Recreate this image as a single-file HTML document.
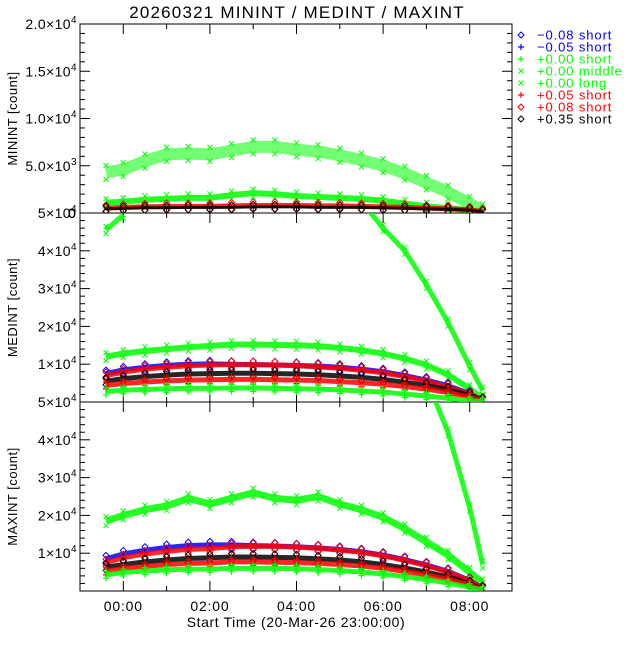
<!DOCTYPE html>
<html><head><meta charset="utf-8"><style>
body{margin:0;background:#fff}
svg text{font-family:"Liberation Sans",sans-serif;}
</style></head><body>
<svg id="c" width="640" height="640" viewBox="0 0 640 640" xmlns="http://www.w3.org/2000/svg">
<rect width="640" height="640" fill="#fff"/>
<text x="297" y="18" font-size="17" letter-spacing="1.2" text-anchor="middle">20260321 MININT / MEDINT / MAXINT</text>
</svg>
<script>
const times=[-0.4,0,0.5,1,1.5,2,2.5,3,3.5,4,4.5,5,5.5,6,6.5,7,7.5,8,8.3];
const xTicks=[0,2,4,6,8];
const xTickLabels=["00:00","02:00","04:00","06:00","08:00"];
// MININT
const minGreenCloud=[4300,4600,5500,6200,6300,6200,6600,7000,7000,6700,6500,6100,5600,5000,4200,3200,2200,1000,200];
const minGreenLow=[1100,1200,1400,1500,1600,1600,1900,2100,2000,1800,1700,1600,1500,1300,1000,700,500,300,100];
const minRed=[500,600,650,700,700,700,750,800,800,800,750,750,700,650,600,500,450,350,150];
const minBlack=[450,500,550,550,600,600,600,650,650,650,600,600,600,550,500,450,400,300,100];
// MEDINT
const medGreenTop=[45500,49500,null,null,null,null,null,null,null,null,null,null,53000,46000,40000,31000,21000,9500,3000];
const medGreenUp=[12000,12800,13500,14000,14500,14800,15200,15200,15100,15000,14800,14300,13700,12800,11500,9800,7200,3500,800];
const medBlue=[7500,8500,9200,9700,10000,10100,10000,9900,9800,9700,9500,9200,8700,8000,7000,5800,4300,2200,500];
const medRedO=[7000,7900,8700,9200,9600,9800,9900,9900,9800,9600,9300,8900,8400,7700,6700,5500,4000,2000,400];
const medBlack=[5500,6200,6700,7100,7400,7500,7600,7600,7500,7400,7200,6900,6500,6000,5200,4300,3200,1700,300];
const medRedP=[4400,4900,5300,5600,5800,5900,6000,6000,5900,5800,5700,5400,5100,4700,4100,3400,2500,1300,200];
const medGreenLow=[2800,3100,3300,3500,3600,3600,3700,3700,3600,3500,3400,3200,2900,2600,2100,1600,1000,400,100];
// MAXINT
const maxGreenHigh=[18500,20000,21500,22500,24500,23000,24500,26000,24500,24000,25000,23000,21500,19500,16500,13000,9500,5000,2000];
const maxGreenSteep=[null,null,null,null,null,null,null,null,null,null,null,null,null,null,null,56000,42000,22000,7000];
const maxBlue=[8500,9800,10800,11500,12000,12200,12200,12000,11900,11700,11400,11000,10400,9500,8300,6900,5200,2800,700];
const maxRed=[7500,8800,9800,10500,11000,11200,11700,11800,11800,11600,11300,10800,10200,9300,8100,6700,5000,2700,600];
const maxBlack=[6300,7000,7700,8200,8600,8800,9000,9000,8900,8800,8500,8200,7700,7000,6100,5000,3700,1900,400];
const maxRedP=[5200,6000,6500,7000,7300,7400,7700,7700,7600,7500,7300,7000,6600,6000,5200,4200,3100,1600,300];
const maxGreenLow=[4300,4900,5300,5600,5800,5800,6000,6000,6000,5900,5700,5400,5000,4500,3800,3000,2100,1000,200];
const legendLabels=["\u22120.08 short","\u22120.05 short","+0.00 short","+0.00 middle","+0.00 long","+0.05 short","+0.08 short","+0.35 short"];
const legendColors=["#0000ff","#0000ff","#00ff00","#00ff00","#00ff00","#ff0000","#ff0000","#000000"];
const legendSyms=["d","+","+","x","x","+","d","d"];

const NS="http://www.w3.org/2000/svg";
const svg=document.getElementById('c');
const X0=80,X1=512;
function xs(h){return 123.3+h*43.3;}
function mk(tag,attrs,parent){const e=document.createElementNS(NS,tag);for(const k in attrs)e.setAttribute(k,attrs[k]);(parent||svg).appendChild(e);return e;}
const panels=[
 {name:'minint',top:24,bot:213,max:20000,minor:1000,labels:[[0,"0"],[5000,"5.0×10","3"],[10000,"1.0×10","4"],[15000,"1.5×10","4"],[20000,"2.0×10","4"]],title:"MININT [count]"},
 {name:'medint',top:213,bot:402,max:50000,minor:2000,labels:[[0,"0"],[10000,"1×10","4"],[20000,"2×10","4"],[30000,"3×10","4"],[40000,"4×10","4"],[50000,"5×10","4"]],title:"MEDINT [count]"},
 {name:'maxint',top:402,bot:591,max:50000,minor:2000,labels:[[0,"0"],[10000,"1×10","4"],[20000,"2×10","4"],[30000,"3×10","4"],[40000,"4×10","4"],[50000,"5×10","4"]],title:"MAXINT [count]"}
];
function ysF(p){return v=>p.bot-(v/p.max)*(p.bot-p.top);}
function marker(g,sym,x,y,col){
 if(sym==='x'){mk('path',{d:`M${x-2.5},${y-2.5}L${x+2.5},${y+2.5}M${x-2.5},${y+2.5}L${x+2.5},${y-2.5}`,stroke:col,'stroke-width':1,fill:'none'},g);}
 else if(sym==='+'){mk('path',{d:`M${x-3},${y}L${x+3},${y}M${x},${y-3}L${x},${y+3}`,stroke:col,'stroke-width':1.2,fill:'none'},g);}
 else {mk('path',{d:`M${x},${y-3}L${x+3},${y}L${x},${y+3}L${x-3},${y}Z`,stroke:col,'stroke-width':1,fill:'none'},g);}
}
function series(p,idx,vals,col,sym,width,name,op){
 const ys=ysF(p);
 const g=mk('g',{'clip-path':`url(#clip${idx})`});
 
 
 let segs=[],cur=[];
 times.forEach((t,i)=>{const v=vals[i];if(v===null){if(cur.length)segs.push(cur);cur=[];}else cur.push([xs(t),ys(v)]);});
 if(cur.length)segs.push(cur);
 segs.forEach(s=>{if(s.length>1)mk('polyline',{points:s.map(q=>q.join(',')).join(' '),fill:'none',stroke:col,'stroke-width':width,'stroke-linejoin':'round','stroke-opacity':op||0.85},g);});
 times.forEach((t,i)=>{const v=vals[i];if(v!==null){
   marker(g,sym,xs(t),ys(v)-width/2-1,col);marker(g,sym,xs(t),ys(v)+width/2+1,col);}});
}
panels.forEach((p,idx)=>{
 const ys=ysF(p);
 const cp=mk('clipPath',{id:'clip'+idx});mk('rect',{x:X0,y:p.top,width:X1-X0,height:p.bot-p.top},cp);
 const ax=mk('g',{});
 
 
 mk('rect',{x:X0,y:p.top,width:X1-X0,height:p.bot-p.top,fill:'none',stroke:'#000','stroke-width':1},ax);
 for(let v=0;v<=p.max;v+=p.minor){const y=ys(v);const maj=p.labels.some(l=>l[0]===v);const L=maj?10:5;
  mk('line',{x1:X0,x2:X0+L,y1:y,y2:y,stroke:'#000'},ax);mk('line',{x1:X1,x2:X1-L,y1:y,y2:y,stroke:'#000'},ax);}
 for(let h=0;h<=8.3;h+=1){const x=xs(h);const L=(h%2===0)?10:5;
  mk('line',{x1:x,x2:x,y1:p.bot,y2:p.bot-L,stroke:'#000'},ax);mk('line',{x1:x,x2:x,y1:p.top,y2:p.top+L,stroke:'#000'},ax);}
 p.labels.forEach(l=>{const y=ys(l[0]);
  if(idx>0&&l[0]===0)return;
  const t=mk('text',{x:l[2]?71:76,y:y+5,'font-size':14,'letter-spacing':0.4,'text-anchor':'end',fill:'#000'},ax);
  
  
  t.textContent=l[1];
  if(l[2]){const s=mk('text',{x:71,y:y-1,'font-size':10,fill:'#000'},ax);s.textContent=l[2];}
 });
 if(idx===0){const t=mk('text',{x:76,y:ys(0)+5,'font-size':14,'text-anchor':'end'},ax);t.textContent="0";}
 const yt=mk('text',{x:0,y:0,'font-size':13,'letter-spacing':0.5,'text-anchor':'middle',transform:`translate(17,${(p.top+p.bot)/2}) rotate(-90)`},ax);
 
 
 yt.textContent=p.title;
});
xTicks.forEach((h,i)=>{const t=mk('text',{x:xs(h),y:611,'font-size':14,'letter-spacing':0.8,'text-anchor':'middle'});
 
 
 t.textContent=xTickLabels[i];});
const xt=mk('text',{x:296,y:627,'font-size':14,'letter-spacing':0.6,'text-anchor':'middle'});


xt.textContent="Start Time (20-Mar-26 23:00:00)";
const P=panels;
series(P[0],0,minGreenCloud,'#00ff00','x',12,'minint-green-middle',0.55);
series(P[0],0,minGreenLow,'#00ff00','x',6,'minint-green-long');
series(P[0],0,minRed,'#ff0000','d',5,'minint-red');
series(P[0],0,minBlack,'#000000','d',3,'minint-black');
series(P[1],1,medGreenTop,'#00ff00','x',5,'medint-green-top');
series(P[1],1,medGreenUp,'#00ff00','x',6,'medint-green-upper');
series(P[1],1,medBlue,'#0000ff','d',5,'medint-blue');
series(P[1],1,medRedO,'#ff0000','d',5,'medint-red-diamond');
series(P[1],1,medBlack,'#000000','d',5,'medint-black');
series(P[1],1,medRedP,'#ff0000','+',5,'medint-red-plus');
series(P[1],1,medGreenLow,'#00ff00','+',5,'medint-green-low');
series(P[2],2,maxGreenHigh,'#00ff00','x',7,'maxint-green-high');
series(P[2],2,maxGreenSteep,'#00ff00','x',5,'maxint-green-steep');
series(P[2],2,maxBlue,'#0000ff','d',5,'maxint-blue');
series(P[2],2,maxRed,'#ff0000','d',5,'maxint-red-diamond');
series(P[2],2,maxBlack,'#000000','d',5,'maxint-black');
series(P[2],2,maxRedP,'#ff0000','+',5,'maxint-red-plus');
series(P[2],2,maxGreenLow,'#00ff00','+',5,'maxint-green-low');
legendLabels.forEach((lab,i)=>{const y=35+i*12;
 const g=mk('g',{});
 
 
 marker(g,legendSyms[i],521,y,legendColors[i]);
 const t=mk('text',{x:537,y:y+4.5,'font-size':13,'letter-spacing':0.9,fill:legendColors[i]},g);t.textContent=lab;});
</script>
</body></html>
